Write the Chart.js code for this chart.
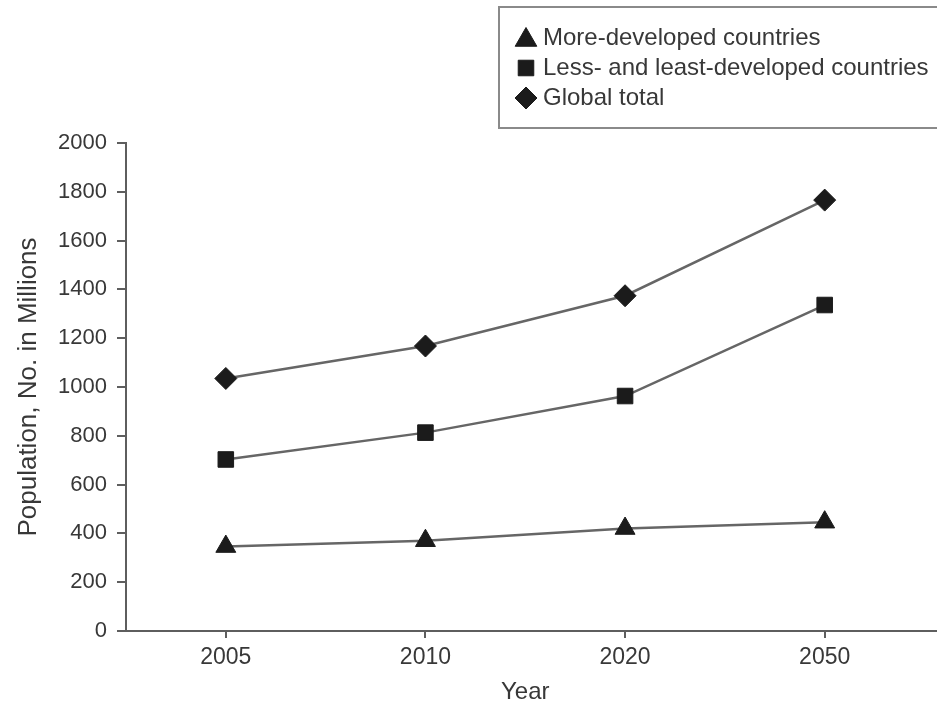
<!DOCTYPE html>
<html>
<head>
<meta charset="utf-8">
<script src="https://cdn.jsdelivr.net/npm/chart.js@4/dist/chart.umd.min.js"></script>
<style>
  html, body { margin: 0; padding: 0; background: #ffffff; }
  #wrap { position: relative; width: 937px; height: 711px; }
</style>
</head>
<body>
<div id="wrap"><canvas id="chart" width="937" height="711"></canvas></div>
<script>
// Population projections (millions)
const years = ['2005', '2010', '2020', '2050'];
const moreDeveloped = [346, 370, 420, 446];
const lessDeveloped = [703, 813, 963, 1336];
const globalTotal = [1035, 1168, 1374, 1766];
const yTicks = [0, 200, 400, 600, 800, 1000, 1200, 1400, 1600, 1800, 2000];

const seriesNames = ['More-developed countries', 'Less- and least-developed countries', 'Global total'];

const FONT = "'Liberation Sans', Arial, sans-serif";
const TEXT = '#383838';
const AXIS = '#5e5e5e';
const LINE = '#666666';
const MARK = '#1b1b1b';

function series(label, data, style, r) {
  return {
    label, data,
    borderColor: LINE, borderWidth: 2.5,
    pointStyle: style, pointRadius: r, pointHoverRadius: r,
    pointBackgroundColor: MARK, pointBorderColor: MARK, pointBorderWidth: 1,
    tension: 0, fill: false
  };
}

// Boxed legend drawn in the top-right corner, markers stacked vertically
const boxedLegend = {
  id: 'boxedLegend',
  afterDraw(chart) {
    const ctx = chart.ctx;
    ctx.save();
    ctx.strokeStyle = '#8a8a8a';
    ctx.lineWidth = 2;
    ctx.strokeRect(499, 7, 460, 121);
    const rows = [38, 68, 98];
    chart.data.datasets.forEach((ds, i) => {
      const y = rows[i];
      const r = ds.pointStyle === 'triangle' ? 12.5 : 11;
      const opts = { pointStyle: ds.pointStyle, radius: r, borderWidth: 1 };
      ctx.fillStyle = MARK;
      ctx.strokeStyle = MARK;
      ctx.lineWidth = 1;
      Chart.helpers.drawPoint(ctx, opts, 526, y + (ds.pointStyle === 'triangle' ? 2 : 0));
      ctx.fillStyle = TEXT;
      ctx.font = "24px " + FONT;
      ctx.textBaseline = 'middle';
      ctx.textAlign = 'left';
      ctx.fillText(ds.label, 543, y);
    });
    ctx.restore();
  }
};

// Carry the baseline on to the right edge of the canvas
const axisTail = {
  id: 'axisTail',
  afterDraw(chart) {
    const { ctx, chartArea } = chart;
    ctx.save();
    ctx.strokeStyle = AXIS;
    ctx.lineWidth = 2;
    ctx.beginPath();
    ctx.moveTo(chartArea.right, chartArea.bottom);
    ctx.lineTo(chart.width, chartArea.bottom);
    ctx.stroke();
    ctx.restore();
  }
};

new Chart(document.getElementById('chart'), {
  type: 'line',
  data: {
    labels: years,
    datasets: [
      series(seriesNames[0], moreDeveloped, 'triangle', 11.5),
      series(seriesNames[1], lessDeveloped, 'rect', 11),
      series(seriesNames[2], globalTotal, 'rectRot', 11)
    ]
  },
  options: {
    responsive: false,
    animation: false,
    layout: { padding: { left: 0, top: 143, right: 11, bottom: 0 } },
    plugins: { legend: { display: false }, tooltip: { enabled: false } },
    scales: {
      x: {
        type: 'category',
        offset: true,
        grid: { display: true, drawOnChartArea: false, drawTicks: true, tickLength: 7, color: AXIS, lineWidth: 2 },
        border: { display: true, color: AXIS, width: 2 },
        ticks: { padding: 6, color: TEXT, font: { family: FONT, size: 23 } },
        title: { display: true, text: 'Year', color: TEXT, font: { family: FONT, size: 24 }, padding: { top: 0, bottom: 4 } },
        afterFit(s) { s.height = 80; }
      },
      y: {
        min: 0, max: 2000,
        afterBuildTicks(s) { s.ticks = yTicks.map(v => ({ value: v })); },
        grid: { display: true, drawOnChartArea: false, drawTicks: true, tickLength: 9, color: AXIS, lineWidth: 2 },
        border: { display: true, color: AXIS, width: 2 },
        ticks: { padding: 10, color: TEXT, font: { family: FONT, size: 22 }, callback: v => String(v) },
        title: { display: true, text: 'Population, No. in Millions', color: TEXT, font: { family: FONT, size: 26 }, padding: { top: 13, bottom: 0 } },
        afterFit(s) { s.width = 126; }
      }
    }
  },
  plugins: [boxedLegend, axisTail]
});
</script>
</body>
</html>
